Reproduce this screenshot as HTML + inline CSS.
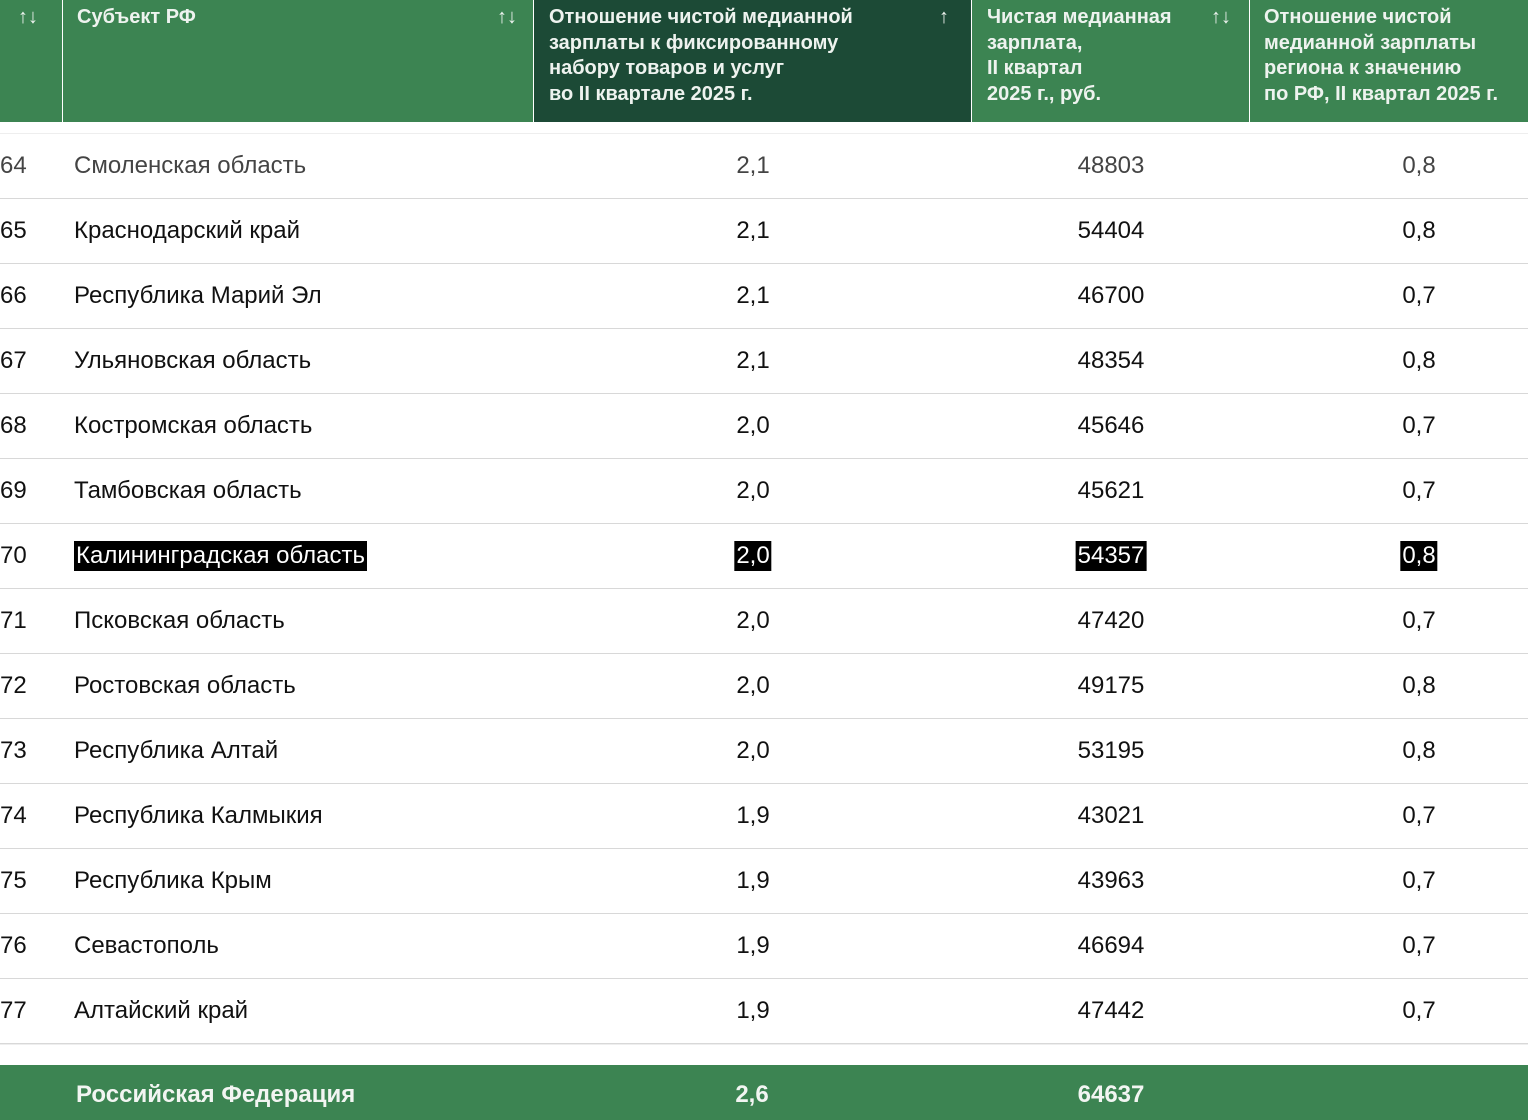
<!DOCTYPE html>
<html><head><meta charset="utf-8"><style>
body{margin:0;width:1528px;height:1120px;background:#fff;font-family:"Liberation Sans",sans-serif;position:relative;overflow:hidden}
.h{position:absolute;top:0;height:122px;background:#3c8452;color:#eef3ef;font-weight:bold;font-size:20px;line-height:25.5px;box-sizing:border-box;padding-top:5px}
.s{position:absolute;font-size:20px;font-weight:normal;color:#eef3ef}
.row{position:absolute;left:0;width:1528px;height:65px;border-bottom:1px solid #d8d8d8;box-sizing:border-box;font-size:24px;color:#111}
.row span{position:absolute;top:17px;line-height:30px;white-space:nowrap}
.c3,.c4,.c5{transform:translateX(-50%)}
.hl span{background:#000;color:#fff;padding:0 2px}
.foot{position:absolute;left:0;top:1065px;width:1528px;height:55px;background:#3c8452;color:#f2f5f2;font-weight:bold;font-size:24px}
.foot span{position:absolute;top:16px}
</style></head><body>
<div class="h" style="left:0;width:62px"><span class="s" style="left:18px;top:5px">↑↓</span></div>
<div class="h" style="left:63px;width:470px;padding-left:14px">Субъект РФ<span class="s" style="right:16px;top:5px">↑↓</span></div>
<div class="h" style="left:534px;width:437px;background:#1c4a36;padding-left:15px">Отношение чистой медианной<br>зарплаты к фиксированному<br>набору товаров и услуг<br>во II квартале 2025 г.<span class="s" style="right:22px;top:5px">↑</span></div>
<div class="h" style="left:972px;width:277px;padding-left:15px">Чистая медианная<br>зарплата,<br>II квартал<br>2025 г., руб.<span class="s" style="right:18px;top:5px">↑↓</span></div>
<div class="h" style="left:1250px;width:278px;padding-left:14px">Отношение чистой<br>медианной зарплаты<br>региона к значению<br>по РФ, II квартал 2025 г.</div>
<div style="position:absolute;left:0;top:133px;width:1528px;height:1px;background:#eee"></div>
<div id="rows"></div>
<div style="position:absolute;left:0;top:1044px;width:1528px;height:1px;background:#eee"></div>
<div class="foot"><span style="left:76px">Российская Федерация</span><span style="left:752px;transform:translateX(-50%)">2,6</span><span style="left:1111px;transform:translateX(-50%)">64637</span></div>
<script>
const ranks=[64,65,66,67,68,69,70,71,72,73,74,75,76,77];
const regions=["Смоленская область","Краснодарский край","Республика Марий Эл","Ульяновская область","Костромская область","Тамбовская область","Калининградская область","Псковская область","Ростовская область","Республика Алтай","Республика Калмыкия","Республика Крым","Севастополь","Алтайский край"];
const ratios=["2,1","2,1","2,1","2,1","2,0","2,0","2,0","2,0","2,0","2,0","1,9","1,9","1,9","1,9"];
const salaries=[48803,54404,46700,48354,45646,45621,54357,47420,49175,53195,43021,43963,46694,47442];
const rfRatios=["0,8","0,8","0,7","0,8","0,7","0,7","0,8","0,7","0,8","0,8","0,7","0,7","0,7","0,7"];
const c=document.getElementById('rows');
ranks.forEach((r,i)=>{
 const d=document.createElement('div');
 d.className='row'+(r===70?' hl':'');
 
 
 d.style.top=(134+i*65)+'px';
 if(i===0)d.style.color='#444';
 d.innerHTML=`<span style="left:0;background:none;color:inherit;padding:0">${r}</span><span style="left:74px">${regions[i]}</span><span class="c3" style="left:753px">${ratios[i]}</span><span class="c4" style="left:1111px">${salaries[i]}</span><span class="c5" style="left:1419px">${rfRatios[i]}</span>`;
 c.appendChild(d);
});
</script>
</body></html>
